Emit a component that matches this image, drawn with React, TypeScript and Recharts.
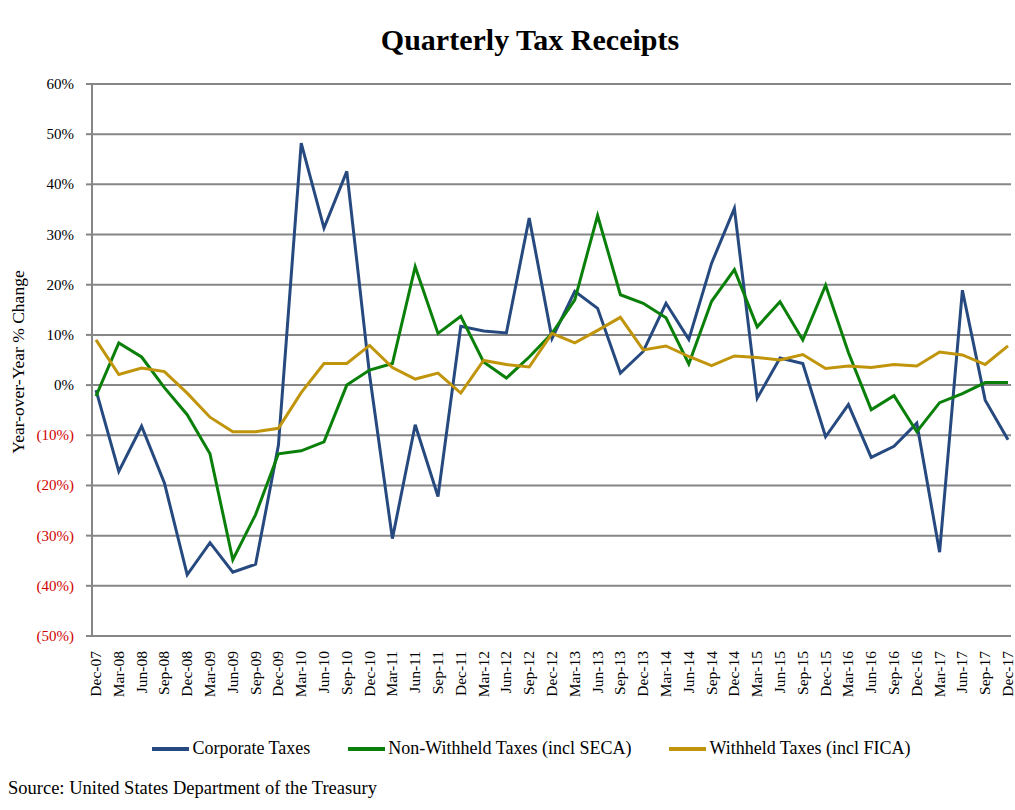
import React from 'react';
import { LineChart, Line, XAxis, YAxis, CartesianGrid, ReferenceLine } from 'recharts';

const quarters = [
  'Dec-07', 'Mar-08', 'Jun-08', 'Sep-08', 'Dec-08', 'Mar-09', 'Jun-09', 'Sep-09', 'Dec-09',
  'Mar-10', 'Jun-10', 'Sep-10', 'Dec-10', 'Mar-11', 'Jun-11', 'Sep-11', 'Dec-11',
  'Mar-12', 'Jun-12', 'Sep-12', 'Dec-12', 'Mar-13', 'Jun-13', 'Sep-13', 'Dec-13',
  'Mar-14', 'Jun-14', 'Sep-14', 'Dec-14', 'Mar-15', 'Jun-15', 'Sep-15', 'Dec-15',
  'Mar-16', 'Jun-16', 'Sep-16', 'Dec-16', 'Mar-17', 'Jun-17', 'Sep-17', 'Dec-17',
];

const corporate = [
  -1, -17.2, -8.2, -19.5, -37.8, -31.4, -37.3, -35.7, -12,
  48.2, 31.3, 42.6, 2, -30.6, -7.9, -22.2, 11.7,
  10.8, 10.4, 33.3, 9.3, 18.7, 15.3, 2.4, 6.7,
  16.3, 9.1, 24.3, 35.2, -2.6, 5.4, 4.3, -10.3,
  -3.9, -14.4, -12.2, -7.6, -33.3, 18.9, -3.0, -10.9,
];

const nonWithheld = [
  -2.2, 8.4, 5.6, -0.5, -5.9, -13.7, -34.8, -25.8, -13.7,
  -13.1, -11.3, 0, 3, 4.3, 23.6, 10.3, 13.7,
  4.6, 1.4, 5.6, 10.3, 17, 33.8, 18, 16.3,
  13.4, 4.2, 16.7, 23, 11.6, 16.6, 9, 19.9,
  6.5, -4.9, -2.1, -9.3, -3.5, -1.7, 0.5, 0.5,
];

const withheld = [
  9, 2.1, 3.4, 2.7, -1.6, -6.4, -9.3, -9.3, -8.6,
  -1.5, 4.3, 4.3, 7.9, 3.5, 1.2, 2.4, -1.6,
  4.9, 4.1, 3.6, 10.3, 8.4, 10.9, 13.5, 7,
  7.8, 5.7, 3.9, 5.8, 5.5, 5, 6.1, 3.3,
  3.8, 3.5, 4.1, 3.8, 6.6, 6, 4.1, 7.8,
];

const yTicks = [-50, -40, -30, -20, -10, 0, 10, 20, 30, 40, 50, 60];

const data = quarters.map((q, i) => ({
  q,
  corporate: corporate[i],
  nonWithheld: nonWithheld[i],
  withheld: withheld[i],
}));

const FONT = '"Palatino Linotype", "Book Antiqua", Palatino, "Liberation Serif", serif';
const GRID = '#868686';

const series = [
  { key: 'corporate', name: 'Corporate Taxes', color: '#264A7F' },
  { key: 'nonWithheld', name: 'Non-Withheld Taxes (incl SECA)', color: '#0A800A' },
  { key: 'withheld', name: 'Withheld Taxes (incl FICA)', color: '#C0950C' },
];

const YTick = (props: any) => {
  const { y, payload } = props;
  const v = payload.value;
  const label = v < 0 ? `(${-v}%)` : `${v}%`;
  return (
    <text x={74} y={y} dy={5} textAnchor="end" fontSize={15} fontFamily={FONT} fill={v < 0 ? '#D00000' : '#000'}>
      {label}
    </text>
  );
};

const XTick = (props: any) => {
  const { x, y, payload } = props;
  return (
    <text
      x={x}
      y={y}
      transform={`rotate(-90, ${x}, ${y})`}
      dx={-7}
      dy={5}
      textAnchor="end"
      fontSize={15.5}
      fontFamily={FONT}
      fill="#000"
    >
      {payload.value}
    </text>
  );
};

export default function App() {
  return (
    <div style={{ position: 'absolute', left: 0, top: 0, width: 1015, height: 810, background: '#fff', fontFamily: FONT }}>
      <div style={{ position: 'absolute', top: 23, left: 0, width: 1060, textAlign: 'center', fontSize: 30, fontWeight: 'bold' }}>
        Quarterly Tax Receipts
      </div>
      <div
        style={{
          position: 'absolute',
          left: 18,
          top: 362,
          transform: 'translate(-50%, -50%) rotate(-90deg)',
          whiteSpace: 'nowrap',
          fontSize: 17.5,
        }}
      >
        Year-over-Year % Change
      </div>
      <div style={{ position: 'absolute', left: 0, top: 0 }}>
        <LineChart width={1015} height={730} data={data} margin={{ top: 84, right: 4, left: 0, bottom: 0 }}>
          <CartesianGrid vertical={false} stroke={GRID} strokeWidth={2} />
          <XAxis
            dataKey="q"
            interval={0}
            height={94}
            axisLine={false}
            tickLine={false}
            tick={<XTick />}
            padding={{ left: 4, right: 3 }}
          />
          <YAxis
            domain={[-50, 60]}
            ticks={yTicks}
            width={92}
            interval={0}
            axisLine={{ stroke: GRID, strokeWidth: 2 }}
            tickLine={{ stroke: GRID, strokeWidth: 2 }}
            tickSize={6}
            tick={<YTick />}
          />
          <ReferenceLine y={0} stroke={GRID} strokeWidth={2} />
          {series.map((s) => (
            <Line
              key={s.key}
              type="linear"
              dataKey={s.key}
              name={s.name}
              stroke={s.color}
              strokeWidth={3}
              dot={false}
              isAnimationActive={false}
            />
          ))}
        </LineChart>
      </div>
      <div style={{ position: 'absolute', top: 738, left: 0, width: 1015, display: 'flex', justifyContent: 'center', fontSize: 18 }}>
        {series.map((s, i) => (
          <div key={s.key} style={{ display: 'flex', alignItems: 'center', marginLeft: i === 0 ? 48 : 38 }}>
            <span style={{ display: 'inline-block', width: 37, height: 4, background: s.color, marginRight: 3 }} />
            <span>{s.name}</span>
          </div>
        ))}
      </div>
      <div style={{ position: 'absolute', left: 8, top: 778, fontSize: 18.5 }}>
        Source: United States Department of the Treasury
      </div>
    </div>
  );
}
